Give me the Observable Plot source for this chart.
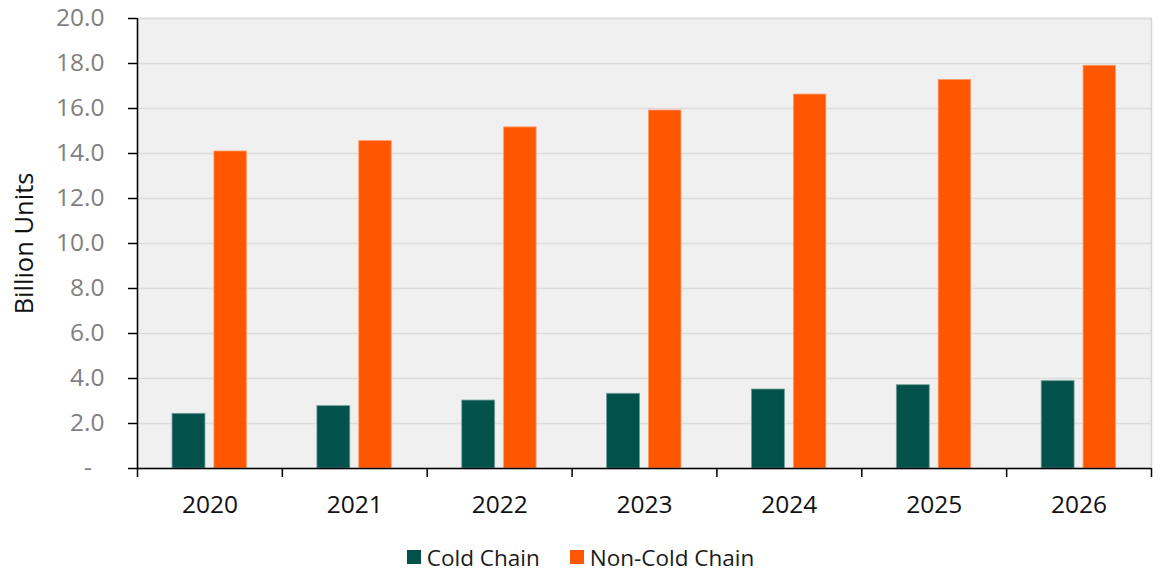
<!DOCTYPE html>
<html>
<head>
<meta charset="utf-8">
<script src="https://cdn.jsdelivr.net/npm/d3@7"></script>
<script src="https://cdn.jsdelivr.net/npm/@observablehq/plot@0.6"></script>
<style>
  body { margin: 0; background: #fff; font-family: "Open Sans", sans-serif; }
  #legend { display: flex; justify-content: center; align-items: center; gap: 30px; height: 43px; padding-top: 11px; box-sizing: border-box; font-size: 22.5px; color: #1a1a1a; }
  #legend .item { display: flex; align-items: center; gap: 6px; }
  #legend .sw { width: 14px; height: 14px; display: inline-block; }
</style>
</head>
<body>
<div id="chart"></div>
<div id="legend"></div>
<script>
const years = ["2020", "2021", "2022", "2023", "2024", "2025", "2026"];
const series = ["Cold Chain", "Non-Cold Chain"];
const coldChain = [2.43, 2.77, 3.02, 3.32, 3.51, 3.70, 3.88];
const nonColdChain = [14.09, 14.55, 15.16, 15.91, 16.62, 17.27, 17.90];
const yTicks = [0, 2, 4, 6, 8, 10, 12, 14, 16, 18, 20];
const colors = ["#02514A", "#FF5700"];

const W = 1161, H = 530;
const mL = 137, mR = 10, mT = 18, mB = 62;
const step = (W - mL - mR) / years.length;

const cold = years.map((y, i) => ({year: y, value: coldChain[i]}));
const nonCold = years.map((y, i) => ({year: y, value: nonColdChain[i]}));

const font = "Open Sans";

const plot = Plot.plot({
  width: W, height: H,
  marginLeft: mL, marginRight: mR, marginTop: mT, marginBottom: mB,
  style: {fontFamily: font, fontSize: "24px", background: "#fff"},
  x: {type: "band", domain: years, padding: 0, round: false, axis: null, label: null},
  y: {domain: [0, 20], axis: null, label: null},
  marks: [
    Plot.frame({fill: "#f0f0f0", stroke: "#d4d4d4", strokeWidth: 1.5}),
    Plot.gridY(yTicks, {stroke: "#dcdcdc", strokeOpacity: 1, strokeWidth: 1.5}),
    Plot.barY(cold, {x: "year", y: "value", fill: colors[0], stroke: "#6e9c98", strokeWidth: 0.8,
      insetLeft: step * 0.242, insetRight: step * 0.531}),
    Plot.barY(nonCold, {x: "year", y: "value", fill: colors[1], stroke: "#ff9a6a", strokeWidth: 0.8,
      insetLeft: step * 0.531, insetRight: step * 0.245}),
    // y axis ticks & line
    Plot.axisY(yTicks, {tickSize: 9, text: null, label: null, stroke: "#000", strokeWidth: 1.5}),
    Plot.axisY(yTicks, {tickSize: 0, tickPadding: 33, label: null, fill: "#7f7f7f", fontSize: 24.5,
      tickFormat: d => d === 0 ? "-\u00a0\u00a0" : d.toFixed(1)}),
    Plot.ruleX([0], {x: () => years[0], dx: -step / 2, y1: 0, y2: 20, stroke: "#000", strokeWidth: 1.5}),
    Plot.ruleY([0], {stroke: "#000", strokeWidth: 1.5}),
    // x axis boundary ticks
    Plot.axisX(years, {tickSize: 9, text: null, label: null, dx: -step / 2, stroke: "#000", strokeWidth: 1.5}),
    Plot.axisX([years[years.length - 1]], {tickSize: 9, text: null, label: null, dx: step / 2, stroke: "#000", strokeWidth: 1.5}),
    Plot.axisX(years, {tickSize: 0, tickPadding: 27, label: null, fill: "#111", fontSize: 24.5}),
    Plot.text(["Billion Units"], {frameAnchor: "left", dx: -113, rotate: -90, textAnchor: "middle",
      fontSize: 25.5, fill: "#111"})
  ]
});
document.getElementById("chart").appendChild(plot);

const legend = document.getElementById("legend");
series.forEach((s, i) => {
  const item = document.createElement("div");
  item.className = "item";
  const sw = document.createElement("span");
  sw.className = "sw";
  sw.style.background = colors[i];
  const t = document.createElement("span");
  t.textContent = s;
  item.appendChild(sw);
  item.appendChild(t);
  legend.appendChild(item);
});
</script>
</body>
</html>
